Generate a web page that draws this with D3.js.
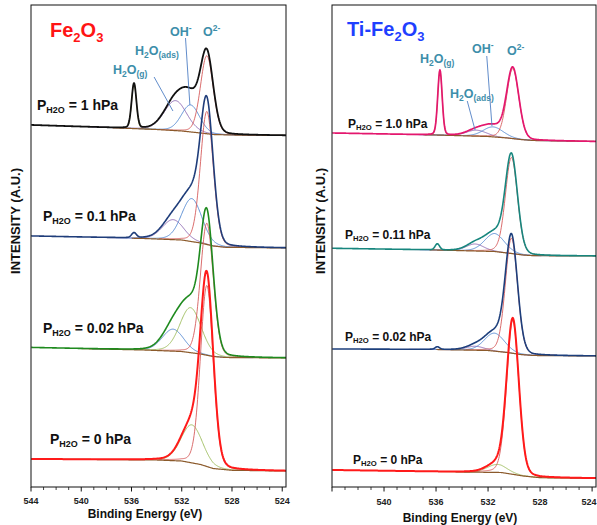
<!DOCTYPE html>
<html><head><meta charset="utf-8">
<script src="https://cdn.jsdelivr.net/npm/d3@7"></script>
<style>body{margin:0;background:#fff}svg{display:block;font-family:Arial,"Liberation Sans",sans-serif}</style>
</head><body><svg id="c" width="597" height="525"></svg>
<script>
// ---------- data ----------
const energyDomain = [544, 523.7];
const majorTicks = [544, 540, 536, 532, 528, 524];
const minorTicks = [543, 542, 541, 539, 538, 537, 535, 534, 533, 531, 530, 529, 527, 526, 525];
const leftTickLabels = ["544", "540", "536", "532", "528", "524"];
const rightTickLabels = ["", "540", "536", "532", "528", "524"];
const leftPressures = ["1", "0.1", "0.02", "0"];
const rightPressures = ["1.0", "0.11", "0.02", "0"];

// background anchors [binding energy, intensity]
const feBg1   = [[544,362],[537,359],[534,357.5],[532,356],[530.5,354],[529.5,352.5],[528,352],[523.7,351.5]];
const feBg01  = [[544,251],[535,248.5],[532,247],[530.5,244],[529.5,241],[528.5,239.7],[523.7,239]];
const feBg002 = [[544,139.5],[535,137],[532,135.5],[530.5,133],[529.5,130.5],[528.5,129.5],[523.7,129]];
const feBg0   = [[544,28],[534,27],[532,26],[530.5,22.5],[529.5,18.5],[528,16.7],[523.7,16]];
const tiBg1   = [[544,354],[536,352],[532,350.5],[530.5,349],[529.5,347.5],[528.5,346.5],[523.7,345.5]];
const tiBg011 = [[544,238.7],[536,237],[531.5,235.5],[530.2,233.5],[529.3,232],[528.5,231.3],[523.7,231]];
const tiBg002 = [[544,138],[536,137.5],[532,136.5],[530.5,134.5],[529.5,132.5],[528.5,131.5],[523.7,131]];
const tiBg0   = [[544,17],[534,15],[531,14.5],[530,12.5],[529.3,11],[528,9.3],[523.7,8.7]];

// fitted components [name, centre eV, height, FWHM eV]
const fePeaks1   = [["gas",535.8,45,0.45],["h2o",532.5,30,2.1],["oh",531.3,27,1.7],["o2",530.0,78,1.2]];
const fePeaks01  = [["gas",535.8,5,0.45],["h2o",532.7,20,2.0],["oh",531.2,43,1.9],["o2",530.0,133,1.2]];
const fePeaks002 = [["h2o",532.7,22,2.0],["oh",531.3,45,2.0],["o2",530.0,132,1.2]];
const fePeaks0   = [["oh",531.2,38,2.0],["o2",530.0,181,1.2]];
const tiPeaks1   = [["gas",535.7,65,0.4],["h2o",532.9,6,1.8],["oh",531.6,10,1.8],["o2",530.1,70,1.1]];
const tiPeaks011 = [["gas",535.9,6,0.4],["h2o",533.0,7,1.6],["oh",531.5,18,1.8],["o2",530.2,96,1.1]];
const tiPeaks002 = [["gas",535.9,2.5,0.4],["h2o",533.0,4,1.6],["oh",531.5,18,1.8],["o2",530.2,115,1.1]];
const tiPeaks0   = [["oh",531.3,8,1.8],["o2",530.1,154,1.1]];

// ---------- styles ----------
const RED_C = "#d65c5c", BLUE_C = "#4f86d0", PUR_C = "#8a64b0", GAS_C = "#b5a642", YG_C = "#9bbb59";
const BG_C = "#8b5a2b", TEAL = "#3d8eaa";
const GL = 0.15;

const svg = d3.select("#c");
const y = d3.scaleLinear().domain([0, 482]).range([487, 5]);
const grid = d3.range(523.7, 544.0001, 0.04);

function pv(E, c, h, w) {
  const d2 = (E - c) * (E - c) / (w * w);
  return h * ((1 - GL) * Math.exp(-4 * Math.LN2 * d2) + GL / (1 + 4 * d2));
}

function drawPanel(p) {
  const x = d3.scaleLinear().domain(energyDomain).range([p.x0, p.x1]);
  const g = svg.append("g");
  const clipId = "clip" + p.x0;
  svg.append("clipPath").attr("id", clipId).append("rect")
    .attr("x", p.x0).attr("y", 5).attr("width", p.x1 - p.x0).attr("height", 482);
  const plot = g.append("g").attr("clip-path", `url(#${clipId})`);
  const line = d3.line().x(d => x(d[0])).y(d => y(d[1]));

  p.spectra.forEach(s => {
    const bgScale = d3.scaleLinear().domain(s.bg.map(d => d[0])).range(s.bg.map(d => d[1]));
    const sg = plot.append("g");
    s.peaks.forEach(pk => {
      const col = s.colors[pk[0]];
      if (!col) return;
      const pts = grid.filter(E => Math.abs(E - pk[1]) < 3.2 * pk[3]).map(E => [E, bgScale(E) + pv(E, pk[1], pk[2], pk[3])]);
      sg.append("path").attr("d", line(pts)).attr("fill", "none")
        .attr("stroke", col).attr("stroke-width", 0.9);
    });
    const bpts = grid.filter(E => E <= s.bgFrom).map(E => [E, bgScale(E)]);
    sg.append("path").attr("d", line(bpts)).attr("fill", "none")
      .attr("stroke", BG_C).attr("stroke-width", 1.2);
    const tpts = grid.map(E => [E, bgScale(E) + d3.sum(s.peaks, pk => pv(E, pk[1], pk[2], pk[3]))]);
    sg.append("path").attr("d", line(tpts)).attr("fill", "none")
      .attr("stroke", s.total).attr("stroke-width", s.tw).attr("stroke-linejoin", "round");
  });

  g.append("rect").attr("x", p.x0).attr("y", 5).attr("width", p.x1 - p.x0).attr("height", 482)
    .attr("fill", "none").attr("stroke", "#111").attr("stroke-width", 1);

  const ax = g.append("g");
  majorTicks.forEach((t, i) => {
    ax.append("line").attr("x1", x(t)).attr("x2", x(t)).attr("y1", 487).attr("y2", 491.5)
      .attr("stroke", "#111").attr("stroke-width", 1);
    if (p.tickLabels[i]) {
      const lx = Math.min(x(t), 597 - 8);
      ax.append("text").attr("x", lx).attr("y", p.tickY).attr("text-anchor", "middle")
        .attr("font-size", 9).attr("font-weight", "bold").attr("fill", "#222").text(p.tickLabels[i]);
    }
  });
  minorTicks.forEach(t => {
    ax.append("line").attr("x1", x(t)).attr("x2", x(t)).attr("y1", 487).attr("y2", 490)
      .attr("stroke", "#111").attr("stroke-width", 0.8);
  });
  g.append("text").attr("x", p.xTitleX).attr("y", p.xTitleY).attr("text-anchor", "middle")
    .attr("font-size", 12).attr("font-weight", "bold").attr("fill", "#111").text("Binding Energy (eV)");
  g.append("text").attr("transform", `translate(${p.yTitleX},221) rotate(-90)`).attr("text-anchor", "middle")
    .attr("font-size", 13).attr("font-weight", "bold").attr("fill", "#111").text("INTENSITY (A.U.)");

  p.spectra.forEach((s, i) => {
    const t = g.append("text").attr("x", p.labelPos[i][0]).attr("y", p.labelPos[i][1])
      .attr("font-size", p.labelSize).attr("font-weight", "bold").attr("fill", "#111");
    t.append("tspan").text("P");
    t.append("tspan").attr("font-size", p.labelSize * 0.64).attr("dy", p.labelSize * 0.2).text("H2O");
    t.append("tspan").attr("dy", -p.labelSize * 0.2).text("\u00a0= " + p.pressures[i] + " hPa");
  });
  return x;
}

function chem(g, xPos, yPos, parts, size) {
  const t = g.append("text").attr("x", xPos).attr("y", yPos).attr("font-size", size)
    .attr("font-weight", "bold").attr("fill", TEAL);
  let shift = 0;
  parts.forEach(([txt, kind]) => {
    const ts = t.append("tspan").text(txt);
    let target = kind === "sub" ? size * 0.25 : kind === "sup" ? -size * 0.38 : 0;
    ts.attr("dy", target - shift);
    shift = target;
    if (kind) ts.attr("font-size", size * 0.68);
  });
}

const xl = drawPanel({
  x0: 31, x1: 286, tickY: 504, tickLabels: leftTickLabels, xTitleX: 145, xTitleY: 518, yTitleX: 20,
  labelSize: 14, pressures: leftPressures,
  labelPos: [[37, 110], [43, 221], [43, 333], [50, 444]],
  spectra: [
    {bg: feBg1, bgFrom: 537.5, peaks: fePeaks1, total: "#111111", tw: 1.8, colors: {gas: GAS_C, h2o: PUR_C, oh: BLUE_C, o2: RED_C}},
    {bg: feBg01, bgFrom: 536, peaks: fePeaks01, total: "#1f3d7a", tw: 1.6, colors: {h2o: PUR_C, oh: BLUE_C, o2: RED_C}},
    {bg: feBg002, bgFrom: 540, peaks: fePeaks002, total: "#1e8a1e", tw: 1.6, colors: {h2o: BLUE_C, oh: YG_C, o2: RED_C}},
    {bg: feBg0, bgFrom: 544, peaks: fePeaks0, total: "#ff1a1a", tw: 2, colors: {oh: YG_C, o2: RED_C}}
  ]
});

const xr = drawPanel({
  x0: 332, x1: 596, tickY: 505, tickLabels: rightTickLabels, xTitleX: 460, xTitleY: 522, yTitleX: 325,
  labelSize: 12, pressures: rightPressures,
  labelPos: [[348, 128], [345, 239], [345, 341], [353, 464]],
  spectra: [
    {bg: tiBg1, bgFrom: 537, peaks: tiPeaks1, total: "#e4176e", tw: 1.7, colors: {gas: GAS_C, h2o: PUR_C, oh: BLUE_C, o2: RED_C}},
    {bg: tiBg011, bgFrom: 536.5, peaks: tiPeaks011, total: "#17867e", tw: 1.6, colors: {h2o: PUR_C, oh: BLUE_C, o2: RED_C}},
    {bg: tiBg002, bgFrom: 536, peaks: tiPeaks002, total: "#1d3f7c", tw: 1.6, colors: {h2o: PUR_C, oh: BLUE_C, o2: RED_C}},
    {bg: tiBg0, bgFrom: 534.5, peaks: tiPeaks0, total: "#ff1a1a", tw: 2, colors: {oh: YG_C, o2: RED_C}}
  ]
});

function title(xPos, yPos, parts, color) {
  const t = svg.append("text").attr("x", xPos).attr("y", yPos).attr("font-size", 20)
    .attr("font-weight", "bold").attr("fill", color);
  let shift = 0;
  parts.forEach(([txt, sub]) => {
    const target = sub ? 5 : 0;
    const ts = t.append("tspan").text(txt).attr("dy", target - shift);
    if (sub) ts.attr("font-size", 13);
    shift = target;
  });
}
title(50, 37, [["Fe"], ["2", 1], ["O"], ["3", 1]], "#ff1414");
title(347, 36, [["Ti-Fe"], ["2", 1], ["O"], ["3", 1]], "#1f3fff");

const ann = svg.append("g");
chem(ann, 113, 74, [["H"], ["2", "sub"], ["O"], ["(g)", "sub"]], 12.5);
chem(ann, 135, 55, [["H"], ["2", "sub"], ["O"], ["(ads)", "sub"]], 12.5);
chem(ann, 170, 36, [["OH"], ["-", "sup"]], 12.5);
chem(ann, 203, 36, [["O"], ["2-", "sup"]], 12.5);
chem(ann, 420, 63, [["H"], ["2", "sub"], ["O"], ["(g)", "sub"]], 12.5);
chem(ann, 450, 98, [["H"], ["2", "sub"], ["O"], ["(ads)", "sub"]], 12.5);
chem(ann, 472, 53, [["OH"], ["-", "sup"]], 12.5);
chem(ann, 507, 55, [["O"], ["2-", "sup"]], 12.5);

const leaders = [
  [xl(534.2), 77, xl(532.7), 111],
  [xl(531.7), 38, xl(531.35), 105],
  [xr(533.6), 101, xr(533.0), 130],
  [xr(532.1), 56, xr(531.7), 126]
];
leaders.forEach(l => ann.append("line").attr("x1", l[0]).attr("y1", l[1]).attr("x2", l[2]).attr("y2", l[3])
  .attr("stroke", "#4f7fc4").attr("stroke-width", 0.9));
</script>
</body></html>
